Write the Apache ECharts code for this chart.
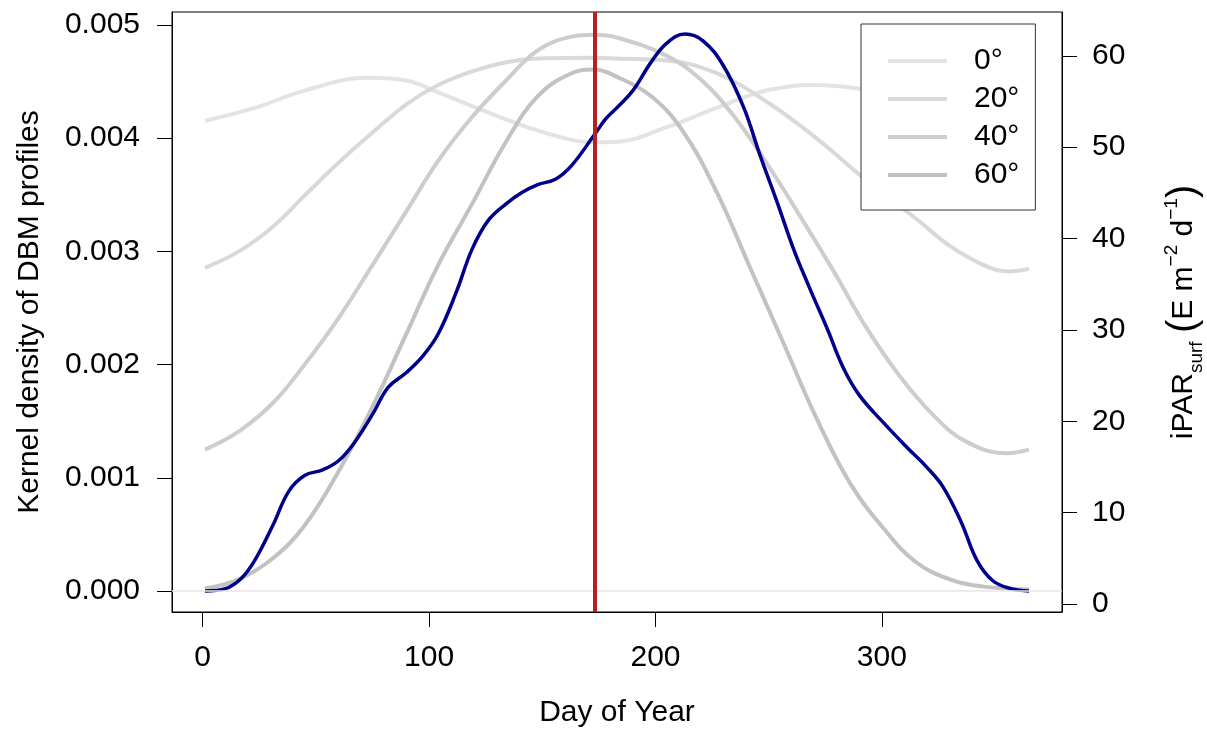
<!DOCTYPE html>
<html>
<head>
<meta charset="utf-8">
<script src="https://cdn.jsdelivr.net/npm/echarts@6/dist/echarts.min.js"></script>
<style>
html,body{margin:0;padding:0;background:#fff;}
#chart{width:1207px;height:729px;}
</style>
</head>
<body>
<div id="chart"></div>
<script>
// ---- Data ----
const xTicks = [0, 100, 200, 300];
const leftTicks = [0, 0.001, 0.002, 0.003, 0.004, 0.005];
const rightTicks = [0, 10, 20, 30, 40, 50, 60];
const solsticeDay = 173;

const days0 = [1, 23, 45, 73, 90, 104, 119, 141, 163, 173, 183, 205, 227, 249, 271, 290, 320, 345, 365];
const par0  = [52.9, 54.3, 56.2, 57.6, 57.3, 56.0, 54.5, 52.4, 50.8, 50.55, 50.6, 52.2, 54.3, 56.2, 56.8, 56.4, 55.2, 53.3, 52.9];

const days20 = [1, 16, 31, 45, 60, 75, 90, 104, 119, 134, 148, 173, 183, 205, 227, 249, 271, 293, 316, 330, 345, 356, 365];
const par20  = [36.8, 38.6, 41.3, 44.7, 48.3, 51.6, 54.7, 56.8, 58.3, 59.3, 59.7, 59.8, 59.7, 59.5, 58.1, 55.0, 51.0, 46.4, 42.0, 39.2, 37.1, 36.4, 36.7];

const days40 = [1, 16, 31, 45, 60, 75, 90, 104, 119, 134, 148, 163, 173, 183, 205, 220, 234, 249, 264, 279, 293, 308, 323, 337, 355, 365];
const par40  = [16.9, 18.9, 22.0, 26.2, 31.3, 37.1, 43.0, 48.5, 53.3, 57.3, 60.6, 62.1, 62.3, 62.0, 60.0, 57.4, 53.6, 48.3, 42.4, 36.3, 30.3, 24.9, 20.6, 17.8, 16.5, 16.9];

const days60 = [1, 16, 31, 45, 60, 75, 90, 104, 119, 134, 148, 163, 173, 183, 198, 212, 227, 242, 257, 271, 286, 301, 315, 330, 345, 365];
const par60  = [1.7, 2.7, 5.0, 8.6, 14.5, 21.6, 29.6, 37.1, 43.8, 50.6, 55.6, 58.1, 58.5, 57.7, 55.6, 51.8, 45.1, 36.7, 28.3, 20.4, 13.2, 8.2, 4.6, 2.7, 1.9, 1.6];

const daysDBM = [1, 10, 17, 23, 31, 38, 45, 53, 60, 67, 75, 82, 90, 97, 104, 112, 119, 126, 134, 141, 148, 156, 163, 173, 178, 183, 190, 198, 205, 213, 221, 230, 239, 246, 254, 261, 268, 276, 283, 290, 301, 311, 320, 327, 335, 342, 349, 357, 365];
const densDBM = [0.00000, 0.00002, 0.00011, 0.00027, 0.00058, 0.00088, 0.00102, 0.00107, 0.00115, 0.00131, 0.00156, 0.00180, 0.00193, 0.00207, 0.00227, 0.00264, 0.00302, 0.00327, 0.00342, 0.00352, 0.00359, 0.00364, 0.00376, 0.00403, 0.00417, 0.00427, 0.00442, 0.00467, 0.00484, 0.00492, 0.00486, 0.00464, 0.00427, 0.00386, 0.00342, 0.00302, 0.00268, 0.00231, 0.00197, 0.00173, 0.00148, 0.00127, 0.00109, 0.00092, 0.00061, 0.00027, 0.00009, 0.00002, 0.00000];

const latNames = ['0°', '20°', '40°', '60°'];
// ---------------------------------------

function pairs(xs, ys) { return xs.map((x, i) => [x, ys[i]]); }

const FONT = '"Liberation Sans", Arial, sans-serif';
const grays = ['#e3e3e3', '#d9d9d9', '#cdcdcd', '#c2c2c2'];
const grayData = [pairs(days0, par0), pairs(days20, par20), pairs(days40, par40), pairs(days60, par60)];

const series = [];
series.push({
  type: 'line', name: 'baseline', yAxisIndex: 0, data: [], z: 1, silent: true,
  markLine: {
    silent: true, symbol: 'none', label: { show: false },
    lineStyle: { color: '#e6e6e6', width: 1.5, type: 'solid' },
    data: [{ yAxis: 0 }]
  }
});
latNames.forEach((n, i) => {
  series.push({
    type: 'line', name: n, yAxisIndex: 1, data: grayData[i],
    smooth: 0.4, symbol: 'none', z: 2,
    lineStyle: { color: grays[i], width: 4 },
    itemStyle: { color: grays[i] }
  });
});
series.push({
  type: 'line', name: 'DBM', yAxisIndex: 0, data: pairs(daysDBM, densDBM),
  smooth: 0.4, symbol: 'none', z: 3,
  lineStyle: { color: '#00008b', width: 3.5 }, itemStyle: { color: '#00008b' }
});
series.push({
  type: 'line', name: 'solstice', yAxisIndex: 0, data: [], z: 4, silent: true,
  markLine: {
    silent: true, symbol: 'none', label: { show: false },
    lineStyle: { color: '#b22222', width: 4, type: 'solid' },
    data: [{ xAxis: solsticeDay }]
  }
});

const tickStyle = { color: '#000', width: 1 };
const labelStyle = { color: '#000', fontSize: 30, fontFamily: FONT };

const option = {
  animation: false,
  backgroundColor: '#fff',
  grid: {
    left: 172, right: 145, top: 12, bottom: 117,
    containLabel: false, outerBoundsMode: 'none',
    show: true, borderColor: '#000', borderWidth: 1, backgroundColor: 'transparent'
  },
  legend: {
    data: latNames,
    orient: 'vertical', left: 861, top: 24,
    backgroundColor: '#fff', borderColor: '#333', borderWidth: 1,
    padding: [22, 16, 20, 27],
    itemWidth: 59, itemHeight: 4, itemGap: 8,
    icon: 'rect',
    textStyle: { color: '#000', fontSize: 30, fontFamily: FONT, padding: [0, 0, 0, 22] }
  },
  xAxis: {
    type: 'value', min: -13.56, max: 379.56,
    name: 'Day of Year', nameLocation: 'middle', nameGap: 86,
    nameTextStyle: labelStyle,
    axisLine: { show: true, onZero: false, lineStyle: tickStyle },
    axisTick: { show: true, length: 15, customValues: xTicks, lineStyle: tickStyle },
    axisLabel: { customValues: xTicks, margin: 31, ...labelStyle },
    splitLine: { show: false }
  },
  yAxis: [{
    type: 'value', position: 'left', min: -0.000186, max: 0.005115,
    name: 'Kernel density of DBM profiles', nameLocation: 'middle', nameGap: 127, nameRotate: 90,
    nameTextStyle: labelStyle,
    axisLine: { show: true, onZero: false, lineStyle: tickStyle },
    axisTick: { show: true, length: 15, customValues: leftTicks, lineStyle: tickStyle },
    axisLabel: { customValues: leftTicks, margin: 32, formatter: v => v.toFixed(3), ...labelStyle },
    splitLine: { show: false }
  }, {
    type: 'value', position: 'right', min: -0.876, max: 64.8,
    name: '{n|iPAR}{sub|surf}{n| }{p|(}{n|E m}{sup|−2}{n| d}{sup|−1}{p|)}',
    nameLocation: 'middle', nameGap: 100, nameRotate: 90,
    nameTextStyle: {
      color: '#000', fontSize: 30, fontFamily: FONT,
      rich: {
        n: { fontSize: 30, fontFamily: FONT, color: '#000', lineHeight: 44 },
        sub: { fontSize: 19, fontFamily: FONT, color: '#000', verticalAlign: 'bottom', lineHeight: 44 },
        sup: { fontSize: 19, fontFamily: FONT, color: '#000', verticalAlign: 'top', lineHeight: 44 },
        p: { fontSize: 40, fontFamily: FONT, color: '#000', lineHeight: 44 }
      }
    },
    axisLine: { show: true, onZero: false, lineStyle: tickStyle },
    axisTick: { show: true, length: 15, customValues: rightTicks, lineStyle: tickStyle },
    axisLabel: { customValues: rightTicks, margin: 30, ...labelStyle },
    splitLine: { show: false }
  }],
  series: series
};

const chart = echarts.init(document.getElementById('chart'), null, { renderer: 'canvas' });
chart.setOption(option);
</script>
</body>
</html>
